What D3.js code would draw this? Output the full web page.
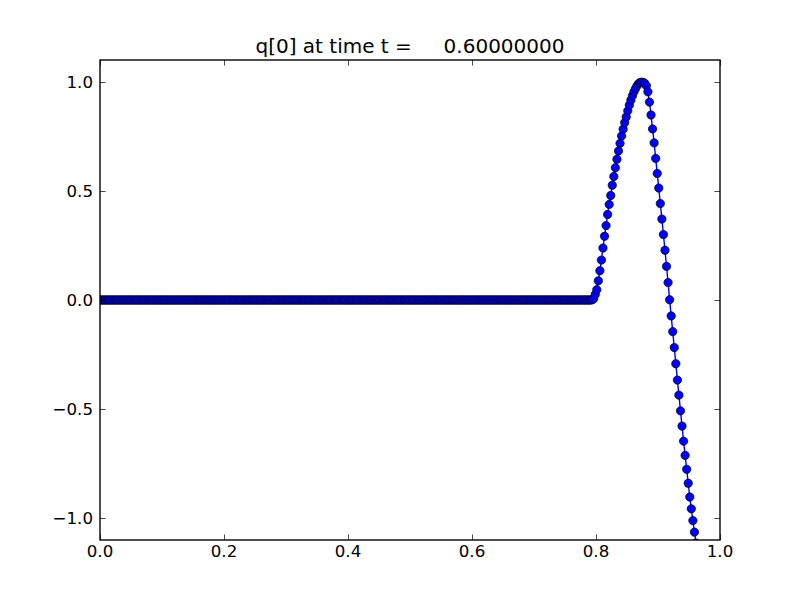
<!DOCTYPE html>
<html>
<head>
<meta charset="utf-8">
<script src="https://cdn.jsdelivr.net/npm/d3@7"></script>
<style>
  body { margin: 0; background: #fff; }
  text { font-family: "DejaVu Sans", sans-serif; fill: #000; }
</style>
</head>
<body>
<script>
// _____________ data (cell centres on a uniform grid, dx = 0.0025)
var dx = 0.0025
var flatCells = 317                 // cells 0..316 sit on q = 0
var qFlat = d3.range(flatCells).map(function () { return 0 })
// cells 317 .. 386
var qPulse = [
  0.001, 0.006, 0.025, 0.047, 0.088, 0.134, 0.183, 0.238, 0.292, 0.341,
  0.392, 0.438, 0.479, 0.526, 0.566, 0.606, 0.645, 0.683, 0.718, 0.752,
  0.783, 0.813, 0.839, 0.867, 0.893, 0.916, 0.936, 0.954, 0.969, 0.982,
  0.992, 0.997, 0.998, 0.997, 0.993, 0.982, 0.954, 0.907, 0.848, 0.784,
  0.720, 0.649, 0.580, 0.513, 0.442, 0.371, 0.300, 0.228, 0.154, 0.080,
  0.001, -0.073, -0.145, -0.218, -0.292, -0.367, -0.436, -0.508, -0.578, -0.647,
  -0.712, -0.776, -0.840, -0.903, -0.957, -1.011, -1.064, -1.114, -1.16, -1.20
]
var xTicks = [0, 0.2, 0.4, 0.6, 0.8, 1.0]
var yTicks = [-1.0, -0.5, 0, 0.5, 1.0]
var titleText = "q[0] at time t =     0.60000000"

var q = qFlat.concat(qPulse)
var points = q.map(function (v, i) { return { x: (i + 0.5) * dx, y: v } })

// _____________ layout
var W = 800, H = 600
var axLeft = 100, axRight = 720, axTop = 60, axBottom = 540

var svg = d3.select('body').append('svg')
    .attr('width', W)
    .attr('height', H)

var x = d3.scaleLinear().domain([0, 1]).range([axLeft, axRight])
var y = d3.scaleLinear().domain([-1.1, 1.1]).range([axBottom, axTop])

svg.append('defs').append('clipPath').attr('id', 'axclip')
  .append('rect')
    .attr('x', axLeft).attr('y', axTop)
    .attr('width', axRight - axLeft).attr('height', axBottom - axTop)

var plot = svg.append('g').attr('clip-path', 'url(#axclip)')

// line
plot.append('path')
    .datum(points)
    .attr('fill', 'none')
    .attr('stroke', '#0000ff')
    .attr('stroke-width', 1.39)
    .attr('d', d3.line().x(function (d) { return x(d.x) }).y(function (d) { return y(d.y) }))

// markers
plot.selectAll('circle')
  .data(points)
  .enter()
  .append('circle')
    .attr('cx', function (d) { return x(d.x) })
    .attr('cy', function (d) { return y(d.y) })
    .attr('r', 4.17)
    .style('fill', '#0000ff')
    .style('stroke', '#000')
    .style('stroke-width', 0.7)

// _____________ frame and ticks (classic style: ticks inside, all four sides)
var tickLen = 5.6
var ticks = svg.append('g').attr('stroke', '#000').attr('stroke-width', 0.7)

xTicks.forEach(function (t) {
  var px = Math.round(x(t)) + 0.5
  ticks.append('line').attr('x1', px).attr('x2', px).attr('y1', axBottom).attr('y2', axBottom - tickLen)
  ticks.append('line').attr('x1', px).attr('x2', px).attr('y1', axTop).attr('y2', axTop + tickLen)
})
yTicks.forEach(function (t) {
  var py = Math.round(y(t)) + 0.5
  ticks.append('line').attr('x1', axLeft).attr('x2', axLeft + tickLen).attr('y1', py).attr('y2', py)
  ticks.append('line').attr('x1', axRight).attr('x2', axRight - tickLen).attr('y1', py).attr('y2', py)
})

svg.append('rect')
    .attr('x', axLeft).attr('y', axTop)
    .attr('width', axRight - axLeft).attr('height', axBottom - axTop)
    .attr('fill', 'none')
    .attr('stroke', '#000')
    .attr('stroke-width', 1.39)

// tick labels
var fmt = function (v) { return d3.format('.1f')(v).replace('-', '\u2212') }

svg.append('g').selectAll('text')
  .data(xTicks)
  .enter()
  .append('text')
    .attr('x', function (d) { return x(d) })
    .attr('y', 557)
    .attr('text-anchor', 'middle')
    .style('font-size', '16.67px')
    .text(fmt)

svg.append('g').selectAll('text')
  .data(yTicks)
  .enter()
  .append('text')
    .attr('x', 93)
    .attr('y', function (d) { return y(d) + 6 })
    .attr('text-anchor', 'end')
    .style('font-size', '16.67px')
    .text(fmt)

// title
svg.append('text')
    .attr('x', (axLeft + axRight) / 2)
    .attr('y', 53)
    .attr('text-anchor', 'middle')
    .style('font-size', '20px')
    .style('white-space', 'pre')
    .text(titleText)
</script>
</body>
</html>
